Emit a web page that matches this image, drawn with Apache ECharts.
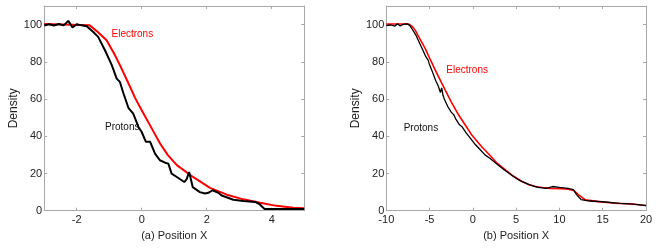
<!DOCTYPE html>
<html><head><meta charset="utf-8">
<script src="https://cdn.jsdelivr.net/npm/echarts@6/dist/echarts.min.js"></script>
<style>html,body{margin:0;padding:0;background:#fff}#c{width:664px;height:249px}</style>
</head><body><div id="c"></div>
<script>
// Panel (a)
const aElectronX = [-3, -1.6, -1.35, -1.08, -0.85, -0.67, -0.38, -0.2, 0, 0.3, 0.57, 0.8, 1.08, 1.59, 2.1, 2.62, 3.13, 3.64, 4.15, 4.66, 5];
const aElectronY = [100.3, 99.6, 96, 91.6, 84.5, 78.2, 67.4, 60.5, 54, 44.5, 36, 30, 24.5, 18, 12.3, 8.6, 6.1, 4.3, 2.6, 1.6, 1.3];
const aProtonX = [-3, -2.85, -2.7, -2.55, -2.4, -2.26, -2.13, -2.0, -1.85, -1.69, -1.49, -1.34, -1.13, -0.92, -0.77, -0.67, -0.56, -0.41, -0.26, -0.1, 0.0, 0.13, 0.26, 0.41, 0.56, 0.72, 0.82, 0.92, 1.08, 1.31, 1.38, 1.46, 1.57, 1.79, 1.95, 2.05, 2.18, 2.36, 2.46, 2.82, 3.13, 3.49, 3.62, 3.78, 4.36, 5];
const aProtonY = [99.5, 100.2, 99.5, 100.3, 99.6, 102, 98.4, 100.2, 99.6, 99.1, 96, 93.4, 86.2, 78.2, 71, 69.2, 63, 55.3, 52.2, 45, 42.3, 37, 37, 30.7, 27.1, 25.8, 25.3, 19.9, 18.1, 15.4, 16.8, 20.8, 12.7, 10.0, 9.2, 9.6, 11.0, 9.6, 8.2, 5.9, 5.2, 4.7, 3.6, 0.9, 0.9, 0.9];
// Panel (b)
const bElectronX = [-10, -7.4, -7, -6.65, -6.2, -5.5, -4.9, -4.34, -3.7, -3.19, -2.5, -1.64, -0.8, -0.1, 1, 1.83, 2.8, 3.76, 4.7, 5.68, 6.5, 7.22, 8, 8.94, 10.29, 11, 11.64, 12.22, 12.99, 14.53, 16.45, 18.38, 20];
const bElectronY = [100.3, 100.3, 99, 96.9, 93, 87.1, 81, 75.5, 69.5, 64.8, 58.5, 51.4, 45.5, 40.5, 34.5, 30.5, 25.5, 22, 18.5, 15.7, 14, 13.0, 12.5, 12, 11.8, 11.5, 10.9, 8.5, 5.8, 4.9, 4.0, 3.6, 2.8];
const bProtonX = [-10, -9.5, -9, -8.7, -8.4, -8, -7.6, -7.3, -7, -6.6, -6.2, -5.8, -5.4, -5.15, -5.05, -4.7, -4.3, -4.0, -3.75, -3.6, -3.45, -3.3, -2.9, -2.5, -2.2, -2.0, -1.6, -1.2, -0.8, -0.3, 0.2, 0.8, 1.4, 2.0, 2.8, 3.6, 4.5, 5.5, 6.5, 7.5, 8.5, 9.2, 10, 11, 11.6, 12, 12.5, 13.5, 15, 17, 18.5, 20];
const bProtonY = [99.5, 99.8, 99.2, 100.5, 99.3, 100.2, 100.4, 99.6, 97.5, 94.5, 90.5, 86.5, 82.5, 80.8, 79, 75, 70, 67, 63.5, 66, 62, 60, 56, 53, 51.5, 49.5, 46.5, 44.8, 42, 39, 36, 33, 30, 28, 25, 22, 19, 16, 14, 12.5, 12, 13, 12.5, 12, 11.3, 8.5, 6, 5.2, 4.8, 3.9, 3.5, 2.7];
const yTicks = [0, 20, 40, 60, 80, 100];
const aXTicks = [-2, 0, 2, 4];
const bXTicks = [-10, -5, 0, 5, 10, 15, 20];
const aXName = '(a) Position X';
const bXName = '(b) Position X';
const yName = 'Density';

const FONT = 'Liberation Sans, Arial, sans-serif';
const zip = (xs, ys) => xs.map((x, i) => [x, ys[i]]);
const gridTop = 6, gridBottom = 38.3;
const frameColor = '#a8a8a8';

function xAxisPair(gi, min, max, ticks, name) {
  return [
    { gridIndex: gi, type: 'value', min, max, position: 'bottom',
      name, nameLocation: 'middle', nameGap: 16,
      nameTextStyle: { fontFamily: FONT, fontSize: 11, color: '#222' },
      axisLine: { show: true, onZero: false, lineStyle: { color: frameColor, width: 1 } },
      axisTick: { show: true, inside: true, length: 3, customValues: ticks, lineStyle: { color: frameColor } },
      axisLabel: { show: true, margin: 4, customValues: ticks, fontFamily: FONT, fontSize: 11, color: '#222' },
      splitLine: { show: false } },
    { gridIndex: gi, type: 'value', min, max, position: 'top',
      axisLine: { show: true, onZero: false, lineStyle: { color: frameColor, width: 1 } },
      axisTick: { show: true, inside: true, length: 3, customValues: ticks, lineStyle: { color: frameColor } },
      axisLabel: { show: false }, splitLine: { show: false } }
  ];
}
function yAxisPair(gi) {
  return [
    { gridIndex: gi, type: 'value', min: 0, max: 110, position: 'left',
      name: yName, nameLocation: 'middle', nameGap: 25, nameRotate: 90,
      nameTextStyle: { fontFamily: FONT, fontSize: 12, color: '#222' },
      axisLine: { show: true, onZero: false, lineStyle: { color: frameColor, width: 1 } },
      axisTick: { show: true, inside: true, length: 3, customValues: yTicks, lineStyle: { color: frameColor } },
      axisLabel: { show: true, margin: 2, customValues: yTicks, fontFamily: FONT, fontSize: 11, color: '#222' },
      splitLine: { show: false } },
    { gridIndex: gi, type: 'value', min: 0, max: 110, position: 'right',
      axisLine: { show: true, onZero: false, lineStyle: { color: frameColor, width: 1 } },
      axisTick: { show: true, inside: true, length: 3, customValues: yTicks, lineStyle: { color: frameColor } },
      axisLabel: { show: false }, splitLine: { show: false } }
  ];
}
function line(xi, yi, data, color, width) {
  return { type: 'line', xAxisIndex: xi, yAxisIndex: yi, data, showSymbol: false, symbol: 'none',
    smooth: false, lineStyle: { color, width }, animation: false, z: color === '#ff0000' ? 2 : 3 };
}

const chart = echarts.init(document.getElementById('c'), null, { renderer: 'canvas' });
chart.setOption({
  animation: false,
  backgroundColor: '#fff',
  grid: [
    { left: 44.2, right: 664 - 304.2, top: gridTop, bottom: gridBottom },
    { left: 386.3, right: 664 - 646, top: gridTop, bottom: gridBottom }
  ],
  xAxis: [...xAxisPair(0, -3, 5, aXTicks, aXName), ...xAxisPair(1, -10, 20, bXTicks, bXName)],
  yAxis: [...yAxisPair(0), ...yAxisPair(1)],
  series: [
    line(0, 0, zip(aElectronX, aElectronY), '#ff0000', 2),
    line(0, 0, zip(aProtonX, aProtonY), '#000000', 2),
    line(2, 2, zip(bElectronX, bElectronY), '#ff0000', 1.6),
    line(2, 2, zip(bProtonX, bProtonY), '#000000', 1.3)
  ],
  graphic: [
    { type: 'text', left: 111.5, top: 29, style: { text: 'Electrons', fill: '#ff0000', font: '10px ' + FONT } },
    { type: 'text', left: 105, top: 122.5, style: { text: 'Protons', fill: '#111', font: '10px ' + FONT } },
    { type: 'text', left: 446.3, top: 65, style: { text: 'Electrons', fill: '#ff0000', font: '10px ' + FONT } },
    { type: 'text', left: 403.7, top: 123.5, style: { text: 'Protons', fill: '#111', font: '10px ' + FONT } }
  ]
});
</script></body></html>
